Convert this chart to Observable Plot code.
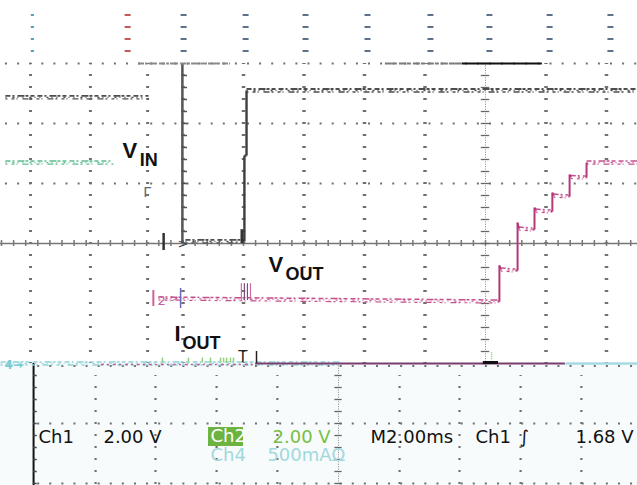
<!DOCTYPE html>
<html>
<head>
<meta charset="utf-8">
<script src="https://cdn.jsdelivr.net/npm/d3@7"></script>
<script src="https://cdn.jsdelivr.net/npm/@observablehq/plot@0.6"></script>
<style>
  html, body { margin: 0; padding: 0; background: #fff; }
  svg { display: block; }
</style>
</head>
<body>
<div id="scope"></div>
<script>
// Start-up capture: Ch1 = V_IN, Ch2 = V_OUT, Ch4 = I_OUT. Time base 2 ms/div, trigger at t = 0.

// ---- channel set-up ----
const ch1VoltsPerDiv = 2, ch1Ground = 0;      // ground marker on the centre line
const ch2VoltsPerDiv = 2, ch2Ground = -0.917; // ground marker just under one div below centre
const ch4AmpsPerDiv = 0.5, ch4Ground = -2;    // ground marker two divs below centre

// ---- Ch1: V_IN (ms, V) ----
const vinTime  = [-9.92, -7.97, -7.97, -7.90, -7.90, 5.02];
const vinVolts = [ 0.07,  0.07,  2.93,  2.93,  5.10, 5.10];

// ---- Ch2: V_OUT (ms, V), staircase soft-start ----
const voutTime  = [-10.81, 0.40, 0.46, 0.46, 0.50, 0.99, 1.06, 1.06, 1.10, 1.55, 1.62, 1.62, 1.66, 2.15, 2.21, 2.21, 2.25, 2.74, 2.78, 2.78, 2.82, 3.31, 3.34, 3.34, 5.02];
const voutVolts = [  0.00, -0.10, -0.10, 1.10, 0.97, 0.93, 0.93, 2.53, 2.33, 2.30, 2.30, 3.03, 2.93, 2.90, 2.90, 3.53, 3.43, 3.40, 3.40, 4.13, 4.05, 4.03, 4.03, 4.53, 4.53];

// ---- Ch4: I_OUT (ms, A) ----
const ioutTime = [-16.03, 5.02];
const ioutAmps = [0, 0];

// ---- inset strip on the left (same channels, earlier record) ----
const insetVinTime  = [-15.87, -11.14];
const insetVinVolts = [4.87, 4.87];
const insetVoutTime  = [-15.87, -12.30];
const insetVoutVolts = [4.53, 4.53];

// ---- status line ----
const statusLabels = ["Ch1", "2.00 V", "Ch2", "2.00 V", "M2.00ms", "Ch1", "\u222B", "1.68 V", "Ch4", "500mA\u03A9"];
const traceNames = ["V", "V", "I"];
const traceSubs  = ["IN", "OUT", "OUT"];

// ---- screen geometry: 10.5 x 8 divisions ----
const msPerDiv = 2;
const tMin = -485 / 60.5 * msPerDiv, tMax = 152 / 60.5 * msPerDiv;
const dMin = -242 / 60, dMax = 243 / 60;

// graticule columns (ms) and rows (div)
const mainCols  = [-10, -8, -6, -4, -2, 2, 4];
const insetCols = [-15.04, -13.06, -11.17];
const topCols   = [-14.98, -11.83, -9.98, -7.93, -5.95, -3.90, -1.82, 0.13, 2.12, 4.13];
const lowerCols = [-12.89, -10.91, -8.89, -6.88, -2.84, -0.86, 1.16, 3.17];
const lowerCentre = -4.86, lowerEdge = -14.94, insetEdge = -10.02;
const mainRows  = [3, 2, 1];
const lowerRows = [-2.04, -3, -4];

// turn a trace into line segments in divisions, marking the fast edges
function segments(time, values, perDiv, ground) {
  const out = [];
  for (let i = 1; i < time.length; i++) {
    out.push({
      t1: time[i - 1], t2: time[i],
      d1: values[i - 1] / perDiv + ground, d2: values[i] / perDiv + ground,
      edge: time[i] - time[i - 1] < 0.1
    });
  }
  return out;
}
const vinSeg  = segments(vinTime, vinVolts, ch1VoltsPerDiv, ch1Ground);
const voutSeg = segments(voutTime, voutVolts, ch2VoltsPerDiv, ch2Ground);
const ioutSeg = segments(ioutTime, ioutAmps, ch4AmpsPerDiv, ch4Ground);
const insetVinSeg  = segments(insetVinTime, insetVinVolts, ch1VoltsPerDiv, ch1Ground);
const insetVoutSeg = segments(insetVoutTime, insetVoutVolts, ch2VoltsPerDiv, ch2Ground);

const L = {x1: "t1", x2: "t2", y1: "d1", y2: "d2"};
// a flat, noisy acquisition drawn as speckled strokes
function noisy(segs, color, w = 2) {
  const flat = segs.filter(s => !s.edge);
  return [
    Plot.link(flat, {...L, stroke: color, strokeWidth: w, strokeDasharray: "5,2,2,3,7,1,3,2,4,3", dy: -1.5}),
    Plot.link(flat, {...L, stroke: color, strokeWidth: w * 0.8, strokeDasharray: "2,4,3,2,1,5,6,2", dy: 1.5}),
    Plot.link(flat, {...L, stroke: color, strokeWidth: w * 0.7, strokeDasharray: "1,6,2,3,1,4", dy: 0})
  ];
}
function edges(segs, color, w = 2.2) {
  return Plot.link(segs.filter(s => s.edge), {...L, stroke: color, strokeWidth: w});
}

const ticks02 = (a, b) => d3.range(a, b + 1e-9, 0.2);
const ticks04 = d3.range(-16, 5.1, 0.4);

const font = "DejaVu Sans, sans-serif";
const bold = "Liberation Sans, Arial, sans-serif";

// status-line placement (ms, div of baseline)
const statusAt = [
  [-14.78, -3.317], [-12.63, -3.317], [-9.09, -3.30], [-7.04, -3.317], [-3.80, -3.317],
  [-0.33, -3.317], [1.12, -3.317], [2.975, -3.317], [-9.09, -3.633], [-7.21, -3.633]
];
const statusFill = ["#111", "#111", "#fff", "#77bf43", "#111", "#111", "#111", "#111", "#a2d8dd", "#a2d8dd"];
const status = statusLabels.map((s, i) => ({s, t: statusAt[i][0], d: statusAt[i][1], c: statusFill[i]}));

const nameAt = [[-12.0, 1.433, -11.43, 1.30], [-7.17, -0.483, -6.61, -0.60], [-10.28, -1.633, -10.02, -1.75]];
const names = traceNames.map((n, i) => ({n, sub: traceSubs[i], t: nameAt[i][0], d: nameAt[i][1], ts: nameAt[i][2], ds: nameAt[i][3]}));

const gridGrey = "#707070";
const ch1 = "#4d4d4d", ch2 = "#b4387a", ch4 = "#8fd2d9";

const chart = Plot.plot({
  width: 637,
  height: 485,
  margin: 0,
  x: {domain: [tMin, tMax], axis: null},
  y: {domain: [dMin, dMax], axis: null},
  style: {background: "#fff", overflow: "hidden"},
  marks: [
    // status panel
    Plot.rect([0], {x1: tMin, x2: tMax, y1: -2, y2: dMin, fill: "#f7fbfb"}),

    // graticule dots
    Plot.ruleY(mainRows, {x1: tMin, x2: tMax, stroke: gridGrey, strokeWidth: 2, strokeDasharray: "2,10.1", strokeDashoffset: 7.1}),
    Plot.ruleX(mainCols, {y1: 3, y2: -2, stroke: gridGrey, strokeWidth: 3.5, strokeDasharray: "2,10", strokeDashoffset: 1}),
    Plot.ruleX(insetCols, {y1: 3, y2: -2, stroke: gridGrey, strokeWidth: 3, strokeDasharray: "2,10", strokeDashoffset: 1}),
    Plot.ruleX(topCols, {y1: 3.817, y2: 3.15, stroke: (d, i) => i === 1 ? "#c25a5a" : i === 0 ? "#4f9fb0" : "#5d7188",
      strokeWidth: (d, i) => i === 0 ? 3 : 6, strokeDasharray: "2,10"}),
    Plot.ruleY(lowerRows, {x1: lowerEdge, x2: tMax, stroke: gridGrey, strokeWidth: 2, strokeDasharray: "2,10.1", strokeDashoffset: 8}),
    Plot.ruleX(lowerCols, {y1: -2.2, y2: dMin, stroke: gridGrey, strokeWidth: 2.2, strokeDasharray: "2,10", strokeDashoffset: 1}),

    // centre axes with minor ticks
    Plot.ruleY([0], {x1: tMin, x2: tMax, stroke: "#777", strokeWidth: 1.5}),
    Plot.ruleX(ticks04, {y1: -0.05, y2: 0.05, stroke: "#777", strokeWidth: 1.5}),
    Plot.ruleX([0], {y1: 3, y2: -2, stroke: "#888", strokeWidth: 1, strokeDasharray: "1,1.4"}),
    Plot.ruleY(ticks02(-2, 3), {x1: -0.14, x2: 0.14, stroke: "#666", strokeWidth: 1.3}),
    Plot.ruleX([lowerCentre], {y1: -2, y2: dMin, stroke: "#888", strokeWidth: 1, strokeDasharray: "1,1.4"}),
    Plot.ruleY(ticks02(-4, -2.2), {x1: lowerCentre - 0.12, x2: lowerCentre + 0.12, stroke: "#666", strokeWidth: 1.3}),

    // graticule edges
    Plot.ruleX([insetEdge], {y1: 3, y2: 0, stroke: "#555", strokeWidth: 2.5}),
    Plot.ruleY(ticks02(0.2, 2.8), {x1: insetEdge, x2: insetEdge + 0.17, stroke: "#555", strokeWidth: 1.5}),
    Plot.ruleX([lowerEdge], {y1: -2, y2: dMin, stroke: "#111", strokeWidth: 2}),
    Plot.ruleY(ticks02(-4, -2.2), {x1: lowerEdge, x2: lowerEdge + 0.12, stroke: "#444", strokeWidth: 1.5}),
    Plot.ruleY([3], {x1: -11.47, x2: -8.43, stroke: "#8a8a8a", strokeWidth: 2, strokeDasharray: "6,1,3,1,8,2"}),
    Plot.ruleY([3], {x1: -3.31, x2: -0.76, stroke: "#7a7a7a", strokeWidth: 2, strokeDasharray: "7,1,4,2"}),
    Plot.ruleY([3], {x1: -0.76, x2: 1.88, stroke: "#111", strokeWidth: 2.2}),

    // Ch4: I_OUT on its ground line
    ...noisy(ioutSeg.map(s => ({...s, t2: -4.8})), ch4, 1.6),
    Plot.link(ioutSeg.map(s => ({...s, t1: 2.64})), {...L, stroke: "#a6dbe2", strokeWidth: 2.5}),
    Plot.ruleY([-2], {x1: -12.7, x2: -7.6, stroke: "#c8589a", strokeWidth: 1.4, strokeDasharray: "3,3,2,4", dy: 1}),
    Plot.ruleY([-2], {x1: -7.6, x2: 2.64, stroke: "#7a3d6e", strokeWidth: 2}),
    Plot.ruleY([-1.983], {x1: -0.07, x2: 0.43, stroke: "#111", strokeWidth: 3}),
    Plot.ruleX([-10.68, -9.82, -9.36, -9.09, -8.76, -8.66, -8.56, -8.43, -8.33], {y1: -1.91, y2: -1.99, stroke: "#8fd07a", strokeWidth: 1.5}),
    Plot.ruleX([0.2], {y1: -1.82, y2: -1.96, stroke: "#8fd07a", strokeWidth: 1.5, strokeDasharray: "1,1"}),

    // Ch1: V_IN
    ...noisy(vinSeg, ch1, 1.8),
    edges(vinSeg, "#3f3f3f", 2.4),
    Plot.ruleX([-8.05], {y1: 0, y2: 0.23, stroke: "#333", strokeWidth: 3}),
    ...noisy(insetVinSeg, ch1, 1.6),

    // Ch2: V_OUT
    ...noisy(voutSeg, "#c4508e", 1.5),
    edges(voutSeg.filter(s => s.t1 >= 0.40), ch2, 2),
    ...noisy(insetVoutSeg, "#5bbd8e", 1.5),
    Plot.ruleX([-8.07, -7.97, -7.87, -7.77], {y1: -0.67, y2: -0.95, stroke: (d, i) => i === 0 || i === 3 ? "#d06aa0" : "#7a4d80", strokeWidth: 1.2}),

    // channel ground markers
    Plot.ruleX([-10.64], {y1: 0.167, y2: -0.117, stroke: "#333", strokeWidth: 2.5}),
    Plot.text([">"], {x: -10.18, y: 0, text: d => d, fill: "#444", fontSize: 13, fontFamily: font, lineAnchor: "middle", textAnchor: "start"}),
    Plot.ruleX([-10.98], {y1: -0.783, y2: -1.05, stroke: "#d0609c", strokeWidth: 2}),
    Plot.text(["2"], {x: -10.84, y: -1.017, text: d => d, fill: "#c8609c", fontSize: 13, fontFamily: font, lineAnchor: "bottom", textAnchor: "start"}),
    Plot.text([">"], {x: -10.45, y: -0.917, text: d => d, fill: "#c8609c", fontSize: 11, fontFamily: font, lineAnchor: "middle", textAnchor: "start"}),
    Plot.ruleX([-10.08], {y1: -0.75, y2: -1.083, stroke: "#6a6ab8", strokeWidth: 1.5}),
    Plot.text(["4\u2192"], {x: -15.9, y: -2.03, text: d => d, fill: "#7ccbd4", fontSize: 12, fontWeight: "bold", fontFamily: font, lineAnchor: "middle", textAnchor: "start"}),
    Plot.text(["\u0393"], {x: -11.31, y: 0.767, text: d => d, fill: "#55667f", fontSize: 14, fontFamily: font, lineAnchor: "bottom", textAnchor: "start"}),
    Plot.text(["T"], {x: -8.17, y: -1.983, text: d => d, fill: "#222", fontSize: 15, fontFamily: font, lineAnchor: "bottom", textAnchor: "start"}),
    Plot.ruleX([-7.57], {y1: -1.8, y2: -2, stroke: "#222", strokeWidth: 1.5}),

    // trace names
    Plot.text(names, {x: "t", y: "d", text: "n", fontSize: 22, fontWeight: "bold", fontFamily: bold, fill: "#111", textAnchor: "start", lineAnchor: "bottom"}),
    Plot.text(names, {x: "ts", y: "ds", text: "sub", fontSize: 18, fontWeight: "bold", fontFamily: bold, fill: "#111", textAnchor: "start", lineAnchor: "bottom"}),

    // status line
    Plot.rect([0], {x1: -9.157, x2: -8.0, y1: -3.067, y2: -3.383, fill: "#6cb33f"}),
    Plot.text(status, {x: "t", y: "d", text: "s", fill: "c", fontSize: 18, fontFamily: font, textAnchor: "start", lineAnchor: "bottom"})
  ]
});

document.getElementById("scope").append(chart);
</script>
</body>
</html>
